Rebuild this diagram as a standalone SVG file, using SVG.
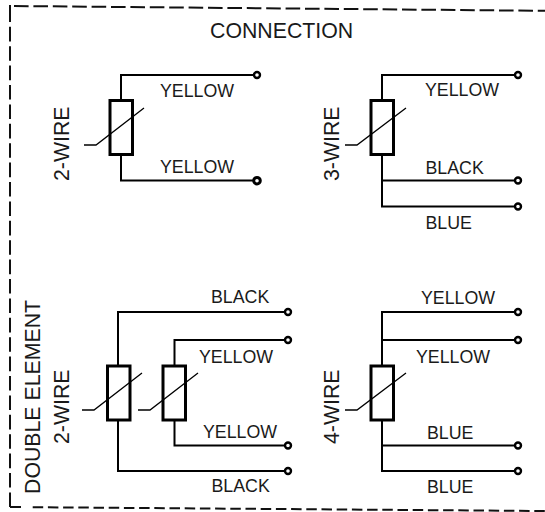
<svg xmlns="http://www.w3.org/2000/svg" width="545" height="512" viewBox="0 0 545 512">
<style>
text{font-family:"Liberation Sans",Arial,sans-serif;fill:#1a1a1a}
.s{font-size:17.8px}
.b{font-size:21.3px}
.f{fill:none;stroke:#111;stroke-width:2}
.ft{stroke-dasharray:14.600 4.800}
.fb{stroke-dasharray:10.500 4.700}
.w{fill:none;stroke:#000;stroke-width:2}
.r{fill:#fff;stroke:#000;stroke-width:3}
.v{fill:none;stroke:#000;stroke-width:1.3}
.t{fill:#fff;stroke:#000;stroke-width:2.400}
</style>
<path class="f ft" d="M14 6L545 10.800"/>
<path class="f ft" d="M10 507V5"/>
<path class="f" d="M10 5V9M10 507H21"/>
<path class="f fb" d="M32.700 507.200L545 511"/>
<text class="b" x="210" y="38">CONNECTION</text>
<g id="connectors">
<path class="w" d="M121 100V75H254M121 154V180.500H254"/>
<path class="w" d="M382 100V75H515M382 154V206.500H515M382 180.500H515"/>
<path class="w" d="M118 366V312H285M118 420V471H285M174.500 366V340H285M174.500 420V445.500H285"/>
<path class="w" d="M382 366V312H515M382 340H515M382 420V471H515M382 445.500H515"/>
</g>
<g id="two-wire">
<rect class="r" x="110" y="100.500" width="22.500" height="54"/>
<path class="v" d="M84 145H96L144 108"/>
<circle class="t" cx="257" cy="75" r="3"/><circle class="t" cx="257" cy="180.700" r="3.300" style="stroke-width:3"/>
<text class="s" x="160" y="97">YELLOW</text><text class="s" x="160" y="173">YELLOW</text>
<text class="b" transform="translate(69 181) rotate(-90)">2-WIRE</text>
</g>
<g id="three-wire">
<rect class="r" x="371" y="100.500" width="22.500" height="54"/>
<path class="v" d="M345 145H357L406 108"/>
<circle class="t" cx="518" cy="75" r="3"/><circle class="t" cx="518" cy="180.500" r="3"/><circle class="t" cx="518" cy="206.500" r="3"/>
<text class="s" x="425" y="96">YELLOW</text><text class="s" x="425.500" y="174">BLACK</text><text class="s" x="425.500" y="229">BLUE</text>
<text class="b" transform="translate(339 181) rotate(-90)">3-WIRE</text>
</g>
<g id="double-element">
<rect class="r" x="107.500" y="366" width="22.500" height="54"/>
<rect class="r" x="163" y="366" width="22.500" height="54"/>
<path class="v" d="M82 410H94L142 373M138 410H150L198 373"/>
<circle class="t" cx="288" cy="312" r="3"/><circle class="t" cx="288" cy="340" r="3"/><circle class="t" cx="288" cy="445.500" r="3"/><circle class="t" cx="288" cy="471" r="3"/>
<text class="s" x="211" y="303">BLACK</text><text class="s" x="199" y="363">YELLOW</text><text class="s" x="203" y="438">YELLOW</text><text class="s" x="211.500" y="492">BLACK</text>
<text class="b" transform="translate(40 494) rotate(-90)">DOUBLE ELEMENT</text>
<text class="b" transform="translate(69 444) rotate(-90)">2-WIRE</text>
</g>
<g id="four-wire">
<rect class="r" x="371" y="366" width="22.500" height="54"/>
<path class="v" d="M345 410H357L406 373"/>
<circle class="t" cx="518" cy="312" r="3"/><circle class="t" cx="518" cy="340" r="3"/><circle class="t" cx="518" cy="445.500" r="3"/><circle class="t" cx="518" cy="471" r="3"/>
<text class="s" x="421" y="304">YELLOW</text><text class="s" x="416" y="363">YELLOW</text><text class="s" x="427" y="439">BLUE</text><text class="s" x="427" y="493">BLUE</text>
<text class="b" transform="translate(339 444) rotate(-90)">4-WIRE</text>
</g>
</svg>
